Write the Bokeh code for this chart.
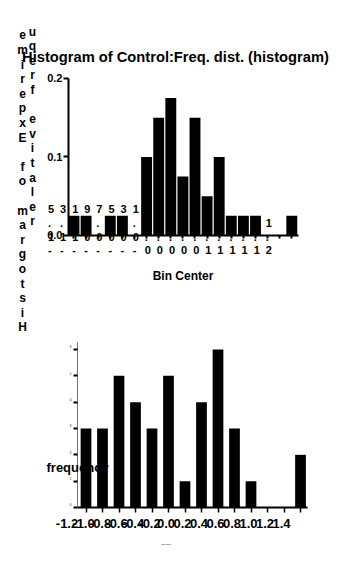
from bokeh.plotting import figure
from bokeh.models import (Range1d, FixedTicker, LabelSet, Label, ColumnDataSource,
                          LinearAxis)
from bokeh.embed import file_html
from bokeh.resources import INLINE
from bokeh.core.properties import value

FONT = "Liberation Sans"

# ---------------- data ----------------
title_text = "Histogram of Control:Freq. dist. (histogram)"
top_ylabel_1 = "Histogram of Experime"
top_ylabel_2 = "relative frequ"
top_xlabel = "Bin Center"

top_bin_centers = [-1.5, -1.3, -1.1, -0.9, -0.7, -0.5, -0.3, -0.1, 0.1, 0.3,
                   0.5, 0.7, 0.9, 1.1, 1.3, 1.5, 1.7, 1.9, 2.1]
top_tick_labels = ["-1.5", "-1.3", "-1.1", "-0.9", "-0.7", "-0.5", "-0.3", "-0.1",
                   "0.1", "0.3", "0.5", "0.7", "0.9", "1.1", "1.3", "1.5", "1.7",
                   "1.9", "2.1"]
top_rel_freq = [0.025, 0.025, 0.0, 0.025, 0.025, 0.0, 0.1, 0.15, 0.175, 0.075,
                0.15, 0.05, 0.1, 0.025, 0.025, 0.025, 0.0, 0.0, 0.025]
top_y_ticks = [0.0, 0.1, 0.2]
top_y_tick_labels = ["0.0", "0.1", "0.2"]

bottom_ylabel = "frequency"
bottom_xlabel = "Bin Center"
bottom_bin_centers = [-1.2, -1.0, -0.8, -0.6, -0.4, -0.2, 0.0, 0.2, 0.4, 0.6,
                      0.8, 1.0, 1.2, 1.4]
bottom_tick_labels = ["-1.2", "-1.0", "-0.8", "-0.6", "-0.4", "-0.2", "0.0",
                      "0.2", "0.4", "0.6", "0.8", "1.0", "1.2", "1.4"]
bottom_counts = [3, 3, 5, 4, 3, 5, 1, 4, 6, 3, 1, 0, 0, 2]
bottom_y_ticks = [0, 1, 2, 3, 4, 5, 6]
bottom_y_tick_labels = ["0", "1", "2", "3", "4", "5", "6"]

# ---------------- layout constants ----------------
FW, FH = 330, 546               # frame size (px); everything is drawn inside
TOP_X = (-1.591, 2.211)         # extent of the upper histogram's x axis
TOP_Y = (0.0, 0.2)              # extent of the upper histogram's y axis
BOT_X = (-1.303, 1.49)          # extent of the lower histogram's x axis
BOT_Y = (0.0, 6.25)             # extent of the lower histogram's y axis


def stack(s):
    # characters stacked upright, read from bottom to top
    return "\n".join(reversed(s))


p = figure(frame_width=FW, frame_height=FH,
           x_range=Range1d(-2.5826, 2.8719), y_range=Range1d(-0.39618, 0.29936),
           x_axis_type=None, y_axis_type=None,
           output_backend="svg", toolbar_location=None,
           min_border=0, min_border_left=8, min_border_right=0,
           min_border_top=0, min_border_bottom=0)
p.extra_x_ranges = {"bx": Range1d(-2.1394, 1.8606)}
p.extra_y_ranges = {"by": Range1d(-1.4812, 19.2556)}
p.outline_line_color = None
p.xgrid.visible = False
p.ygrid.visible = False

# ---------- upper histogram ----------
ax_tx = LinearAxis(fixed_location=TOP_Y[0], bounds=TOP_X,
                   ticker=FixedTicker(ticks=[], minor_ticks=top_bin_centers))
ax_tx.axis_line_width = 2
ax_tx.minor_tick_out = 3
ax_tx.minor_tick_in = 0
ax_tx.minor_tick_line_width = 2
ax_tx.minor_tick_line_color = "black"
p.add_layout(ax_tx, "below")

ax_ty = LinearAxis(fixed_location=TOP_X[0], bounds=TOP_Y,
                   ticker=FixedTicker(ticks=[], minor_ticks=top_y_ticks))
ax_ty.axis_line_width = 2
ax_ty.minor_tick_out = 0
ax_ty.minor_tick_in = 5
ax_ty.minor_tick_line_width = 2
ax_ty.minor_tick_line_color = "black"
p.add_layout(ax_ty, "right")

top_src = ColumnDataSource(dict(x=top_bin_centers, y=[0] * len(top_bin_centers),
                                text=[stack(s) for s in top_tick_labels]))
p.add_layout(LabelSet(x="x", y="y", text="text", source=top_src,
                      x_offset=-23, y_offset=-21, text_align="center",
                      text_baseline="bottom", text_font=value(FONT),
                      text_font_size=value("11px"), text_font_style=value("bold"),
                      text_line_height=1.16, text_color="black"))

ytl_src = ColumnDataSource(dict(x=[TOP_X[0]] * len(top_y_ticks), y=top_y_ticks,
                                text=top_y_tick_labels))
p.add_layout(LabelSet(x="x", y="y", text="text", source=ytl_src,
                      x_offset=-6, y_offset=0, text_align="right",
                      text_baseline="middle", text_font=value(FONT),
                      text_font_size=value("11px"), text_font_style=value("bold"),
                      text_color="black"))

p.vbar(x=top_bin_centers, top=top_rel_freq, width=0.18, fill_color="black",
       line_color=None)

p.add_layout(Label(x=167, y=490, x_units="screen", y_units="screen",
                   text=title_text, text_align="center", text_baseline="middle",
                   text_font=FONT, text_font_size="14.7px", text_font_style="bold",
                   text_color="black"))
p.add_layout(Label(x=14, y=212, x_units="screen", y_units="screen",
                   text=stack(top_ylabel_1), text_align="center",
                   text_baseline="bottom", text_font=FONT, text_font_size="12px",
                   text_font_style="bold", text_line_height=1.043,
                   text_color="black"))
p.add_layout(Label(x=24, y=318, x_units="screen", y_units="screen",
                   text=stack(top_ylabel_2), text_align="center",
                   text_baseline="bottom", text_font=FONT, text_font_size="12px",
                   text_font_style="bold", text_line_height=1.043,
                   text_color="black"))
p.add_layout(Label(x=174.5, y=271, x_units="screen", y_units="screen",
                   text=top_xlabel, text_align="center", text_baseline="middle",
                   text_font=FONT, text_font_size="12px", text_font_style="bold",
                   text_color="black"))

# ---------- lower histogram ----------
ax_bx = LinearAxis(x_range_name="bx", y_range_name="by", fixed_location=BOT_Y[0],
                   bounds=BOT_X,
                   ticker=FixedTicker(ticks=[], minor_ticks=bottom_bin_centers))
ax_bx.axis_line_width = 2
ax_bx.minor_tick_out = 5
ax_bx.minor_tick_in = 0
ax_bx.minor_tick_line_width = 1.5
ax_bx.minor_tick_line_color = "black"
p.add_layout(ax_bx, "below")

ax_by = LinearAxis(x_range_name="bx", y_range_name="by", fixed_location=BOT_X[0],
                   bounds=BOT_Y,
                   ticker=FixedTicker(ticks=[], minor_ticks=bottom_y_ticks))
ax_by.axis_line_width = 1
ax_by.axis_line_color = "#777777"
ax_by.minor_tick_out = 0
ax_by.minor_tick_in = 4
ax_by.minor_tick_line_width = 2
ax_by.minor_tick_line_color = "black"
p.add_layout(ax_by, "right")

p.add_layout(Label(x=38, y=79, x_units="screen", y_units="screen",
                   text=bottom_ylabel, text_align="left", text_baseline="middle",
                   text_font=FONT, text_font_size="13px", text_font_style="bold",
                   text_color="black"))

p.vbar(x=bottom_bin_centers, top=bottom_counts, width=0.13, fill_color="black",
       line_color=None, x_range_name="bx", y_range_name="by")

bxl_src = ColumnDataSource(dict(x=bottom_bin_centers, y=[0] * len(bottom_bin_centers),
                                text=bottom_tick_labels))
p.add_layout(LabelSet(x="x", y="y", text="text", source=bxl_src,
                      x_range_name="bx", y_range_name="by",
                      x_offset=-19, y_offset=-16, text_align="center",
                      text_baseline="middle", text_font=value(FONT),
                      text_font_size=value("13px"), text_font_style=value("bold"),
                      text_color="black"))

byl_src = ColumnDataSource(dict(x=[BOT_X[0]] * len(bottom_y_ticks), y=bottom_y_ticks,
                                text=bottom_y_tick_labels))
p.add_layout(LabelSet(x="x", y="y", text="text", source=byl_src,
                      x_range_name="bx", y_range_name="by",
                      x_offset=-6, y_offset=3, text_align="right",
                      text_baseline="middle", text_font=value(FONT),
                      text_font_size=value("3px"), text_color="black"))

p.add_layout(Label(x=158, y=2, x_units="screen", y_units="screen",
                   text=bottom_xlabel, text_align="center", text_baseline="middle",
                   text_font=FONT, text_font_size="2px", text_color="black"))

open("out.html", "w").write(file_html(p, INLINE))
